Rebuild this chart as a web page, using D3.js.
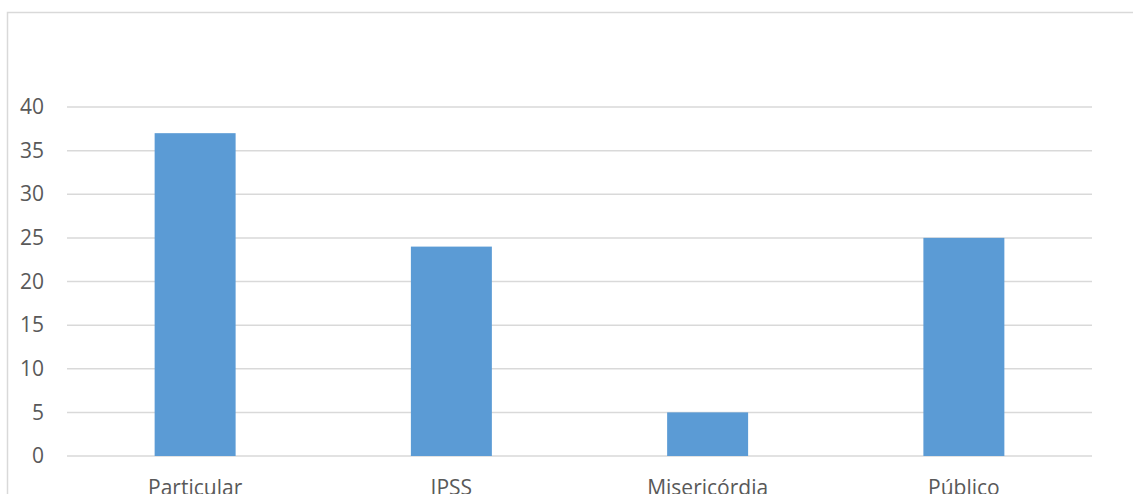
<!DOCTYPE html>
<html>
<head>
<meta charset="utf-8">
<script src="https://cdn.jsdelivr.net/npm/d3@7"></script>
<style>
  body { margin: 0; background: #fff; }
  svg { display: block; }
</style>
</head>
<body>
<script>
// chart data
var categories = ["Particular", "IPSS", "Misericórdia", "Público"];
var values = [37, 24, 5, 25];
var yTicks = [0, 5, 10, 15, 20, 25, 30, 35, 40];

var width = 1133;
var height = 494;

var svg = d3.select("body")
	.append("svg")
	.attr("width", width)
	.attr("height", height);

//outer chart border
svg.append("rect")
	.attr("x", 7.5)
	.attr("y", 12.5)
	.attr("width", 1140)
	.attr("height", 500)
	.attr("fill", "none")
	.attr("stroke", "#d9d9d9")
	.attr("stroke-width", 1.5);

var x = d3.scaleBand()
	.domain(categories)
	.range([67, 1092])
	.paddingInner(0.684)
	.paddingOuter(0.342);

var y = d3.scaleLinear()
	.domain([0, 40])
	.range([456, 107]);

//gridlines
svg.append("g")
	.selectAll("line")
	.data(yTicks)
	.enter()
		.append("line")
		.attr("x1", 67)
		.attr("x2", 1092)
		.attr("y1", function(d) { return y(d); })
		.attr("y2", function(d) { return y(d); })
		.attr("stroke", "#d9d9d9")
		.attr("stroke-width", 1.5);

//y axis labels
var yAxis = d3.axisLeft(y)
	.tickValues(yTicks)
	.tickSize(0)
	.tickPadding(0);

var yG = svg.append("g")
	.attr("transform", "translate(44, 0)")
	.call(yAxis);
yG.select(".domain").remove();
yG.selectAll("text")
	.attr("fill", "#595959")
	.style("font-family", "'Open Sans', sans-serif")
	.style("font-size", "21px");

//bars
svg.append("g")
	.selectAll("rect")
	.data(values)
	.enter()
		.append("rect")
		.attr("x", function(d, i) { return x(categories[i]); })
		.attr("width", x.bandwidth())
		.attr("y", function(d) { return y(d); })
		.attr("height", function(d) { return y(0) - y(d); })
		.attr("fill", "#5b9bd5");

//category labels (cut off at the bottom edge, as in the original)
var xAxis = d3.axisBottom(x)
	.tickSize(0)
	.tickPadding(0);

var xG = svg.append("g")
	.attr("transform", "translate(0, 476)")
	.call(xAxis);
xG.select(".domain").remove();
xG.selectAll("text")
	.attr("fill", "#595959")
	.attr("dy", "0.9em")
	.style("font-family", "'Open Sans', sans-serif")
	.style("font-size", "21px");
</script>
</body>
</html>
